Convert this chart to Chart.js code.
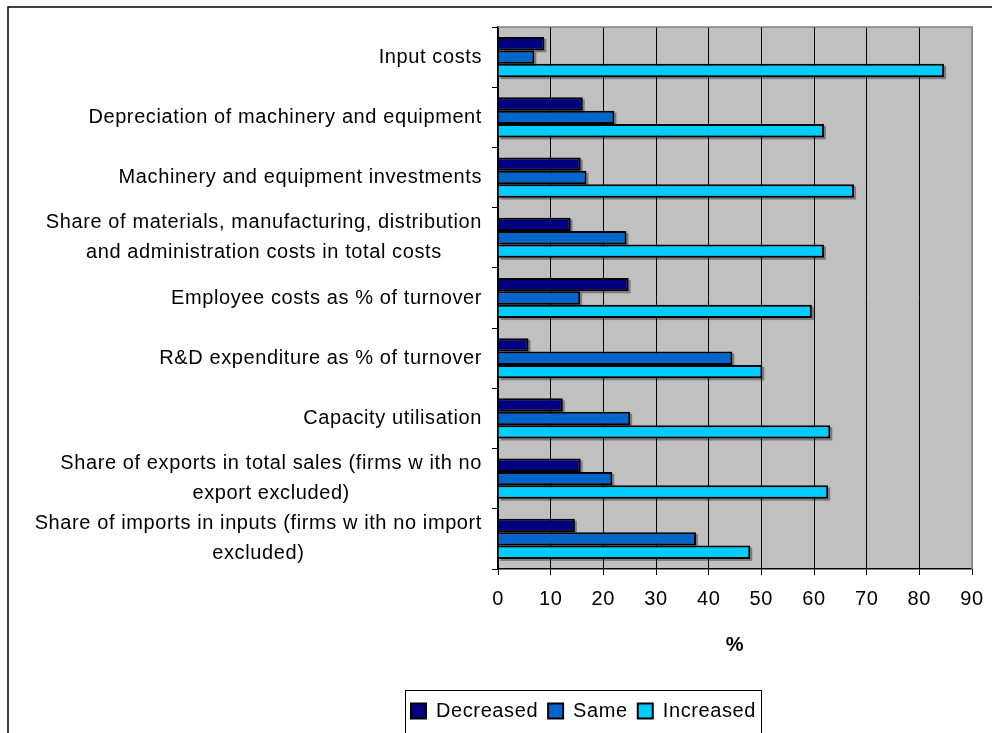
<!DOCTYPE html>
<html>
<head>
<meta charset="utf-8">
<script src="https://cdn.jsdelivr.net/npm/chart.js@4"></script>
<style>
  html, body { margin: 0; padding: 0; background: #fff; }
  canvas { display: block; }
</style>
</head>
<body>
<canvas id="chart1" width="992" height="733"></canvas>
<script>
const categories = [
  ['Input costs'],
  ['Depreciation of machinery and equipment'],
  ['Machinery and equipment investments'],
  ['Share of materials, manufacturing, distribution', 'and administration costs in total costs'],
  ['Employee costs as % of turnover'],
  ['R&D expenditure as % of turnover'],
  ['Capacity utilisation'],
  ['Share of exports in total sales (firms w ith no', 'export excluded)'],
  ['Share of imports in inputs (firms w ith no import', 'excluded)']
];

const data_decreased = [8.8, 16.1, 15.7, 13.8, 24.8, 5.8, 12.3, 15.7, 14.6];
const data_same = [6.9, 22.1, 16.8, 24.4, 15.6, 44.5, 25.1, 21.7, 37.6];
const data_increased = [84.7, 61.9, 67.6, 61.9, 59.6, 50.2, 63.1, 62.7, 47.9];

const x_ticks = [0, 10, 20, 30, 40, 50, 60, 70, 80, 90];

const FONT = "'Liberation Sans', Arial, sans-serif";
const SPACING = '0.6px';

// letter spacing has to be set before layout so text is measured with it
const spacing = {
  id: 'spacing',
  beforeUpdate(chart) {
    chart.ctx.letterSpacing = SPACING;
  }
};

// grey plot background, outer frame, bar shadows
const background = {
  id: 'background',
  beforeDraw(chart) {
    const ctx = chart.ctx;
    const a = chart.chartArea;
    ctx.save();
    ctx.fillStyle = '#C0C0C0';
    ctx.fillRect(a.left, a.top, a.right - a.left, a.bottom - a.top);
    ctx.strokeStyle = '#000';
    ctx.lineWidth = 1.5;
    ctx.beginPath();
    ctx.moveTo(8, chart.height + 2);
    ctx.lineTo(8, 7);
    ctx.lineTo(chart.width + 2, 7);
    ctx.stroke();
    ctx.restore();
  },
  beforeDatasetsDraw(chart) {
    const ctx = chart.ctx;
    ctx.save();
    ctx.fillStyle = 'rgba(0,0,0,0.35)';
    chart.data.datasets.forEach((ds, i) => {
      chart.getDatasetMeta(i).data.forEach(bar => {
        const p = bar.getProps(['x', 'y', 'base', 'height'], true);
        ctx.fillRect(p.base + 2, p.y - p.height / 2 + 2, p.x - p.base, p.height);
      });
    });
    ctx.restore();
  },
  afterDraw(chart) {
    const ctx = chart.ctx;
    const a = chart.chartArea;
    ctx.save();
    // plot frame top and right
    ctx.strokeStyle = '#808080';
    ctx.lineWidth = 1.5;
    ctx.beginPath();
    ctx.moveTo(a.left, a.top);
    ctx.lineTo(a.right, a.top);
    ctx.lineTo(a.right, a.bottom);
    ctx.stroke();

    // category labels, block right aligned, lines centred in the block
    const yScale = chart.scales.y;
    ctx.font = '20px ' + FONT;
    ctx.letterSpacing = SPACING;
    ctx.fillStyle = '#000';
    ctx.textAlign = 'center';
    ctx.textBaseline = 'middle';
    const lineH = 30;
    const right = a.left - 16;
    categories.forEach((lines, i) => {
      const cy = yScale.getPixelForValue(i);
      const w = Math.max(...lines.map(l => ctx.measureText(l).width));
      const cx = right - w / 2;
      lines.forEach((l, k) => {
        ctx.fillText(l, cx, cy + (k - (lines.length - 1) / 2) * lineH);
      });
    });

    // box round the legend
    const boxes = chart.legend.legendHitBoxes;
    if (boxes && boxes.length) {
      const l = Math.min(...boxes.map(b => b.left)) - 6;
      const r = Math.max(...boxes.map(b => b.left + b.width)) + 5;
      const t = Math.min(...boxes.map(b => b.top)) - 11;
      ctx.strokeStyle = '#000';
      ctx.lineWidth = 1;
      ctx.strokeRect(l + 0.5, t + 0.5, r - l, chart.height - t + 10);
    }
    ctx.restore();
  }
};

const data_chart = {
  labels: categories.map(c => c.join(' ')),
  datasets: [{
    label: 'Decreased',
    backgroundColor: '#000080',
    borderColor: '#000000',
    borderWidth: 2,
    data: data_decreased,
  }, {
    label: 'Same',
    backgroundColor: '#0066CC',
    borderColor: '#000000',
    borderWidth: 2,
    data: data_same,
  }, {
    label: 'Increased',
    backgroundColor: '#00CCFF',
    borderColor: '#000000',
    borderWidth: 2,
    data: data_increased,
  }]
};

const config = {
  type: 'bar',
  data: data_chart,
  options: {
    indexAxis: 'y',
    responsive: false,
    animation: false,
    categoryPercentage: 0.667,
    barPercentage: 1.0,
    layout: {
      padding: { left: 195, right: 20, top: 27, bottom: 2 }
    },
    scales: {
      x: {
        min: 0,
        max: 90,
        afterBuildTicks: scale => {
          scale.ticks = x_ticks.map(v => ({ value: v }));
        },
        afterFit: scale => {
          scale.height = 122;
          scale.paddingLeft = 0;
          scale.paddingRight = 0;
        },
        grid: {
          color: c => (c.tick && c.tick.value === 90) ? '#808080' : '#000000',
          tickColor: '#000000',
          tickLength: 6,
          lineWidth: 1
        },
        border: { color: '#000000', width: 1.5 },
        ticks: {
          color: '#000',
          padding: 12,
          maxRotation: 0,
          font: { family: FONT, size: 20 }
        },
        title: {
          display: true,
          text: '%',
          color: '#000',
          font: { family: FONT, size: 20, weight: 'bold' },
          padding: { top: 4, bottom: 34 }
        }
      },
      y: {
        afterFit: scale => { scale.width = 303; },
        grid: {
          drawOnChartArea: false,
          color: '#000000',
          tickLength: 6
        },
        border: { color: '#000000', width: 1.5 },
        ticks: { display: false }
      }
    },
    plugins: {
      tooltip: { enabled: false },
      legend: {
        position: 'bottom',
        labels: {
          color: '#000',
          boxWidth: 15,
          boxHeight: 15,
          padding: 10,
          font: { family: FONT, size: 20 }
        }
      }
    }
  },
  plugins: [spacing, background]
};

const chart1 = new Chart(
  document.getElementById('chart1'),
  config
);
</script>
</body>
</html>
